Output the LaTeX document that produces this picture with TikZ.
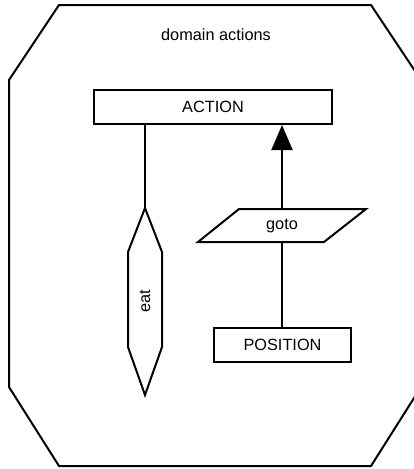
\documentclass[tikz,border=0pt]{standalone}
\usepackage{fontspec}
\setmainfont{Liberation Sans}
\usetikzlibrary{arrows.meta}
\begin{document}
\begin{tikzpicture}[x=1pt,y=-1pt,
  line width=2pt,
  lbl/.style={font=\fontsize{16.3}{19}\selectfont, inner sep=0pt},
  entity/.style={lbl, draw, rectangle},
  link/.style={draw},
  isa/.style={draw, -{Triangle[length=25pt,width=21pt]}}]
\useasboundingbox (0,0) rectangle (414,469);
\clip (0,0) rectangle (414,469);

% enclosing domain outline
\draw (59,5) -- (371,5) -- (421,80) -- (421,387) -- (371,466)
      -- (59,466) -- (9,387) -- (9,80) -- cycle;
\node[lbl] (title) at (216,35) {domain actions};

% entities
\node[entity, minimum width=238pt, minimum height=34pt] (action) at (213,107) {ACTION};
\node[entity, minimum width=137pt, minimum height=34pt] (position) at (282.5,345) {POSITION};

% relationship "goto" (parallelogram)
\node[lbl, minimum height=33pt] (goto) at (282,225.5) {goto};
\draw (239,209) -- (366,209) -- (324,242) -- (198,242) -- cycle;

% relationship "eat" (elongated hexagon)
\coordinate (eattop) at (145,208);
\draw (eattop) -- (162,252) -- (162,347) -- (145,395) -- (128,347) -- (128,252) -- cycle;
\node[lbl, rotate=90] (eat) at (145,301) {eat};

% connectors
\draw[link] (action.south -| eattop) -- (eattop);
\draw[isa] (goto.north) -- (action.south -| goto.north);
\draw[link] (goto.south) -- (position.north -| goto.south);
\end{tikzpicture}
\end{document}
